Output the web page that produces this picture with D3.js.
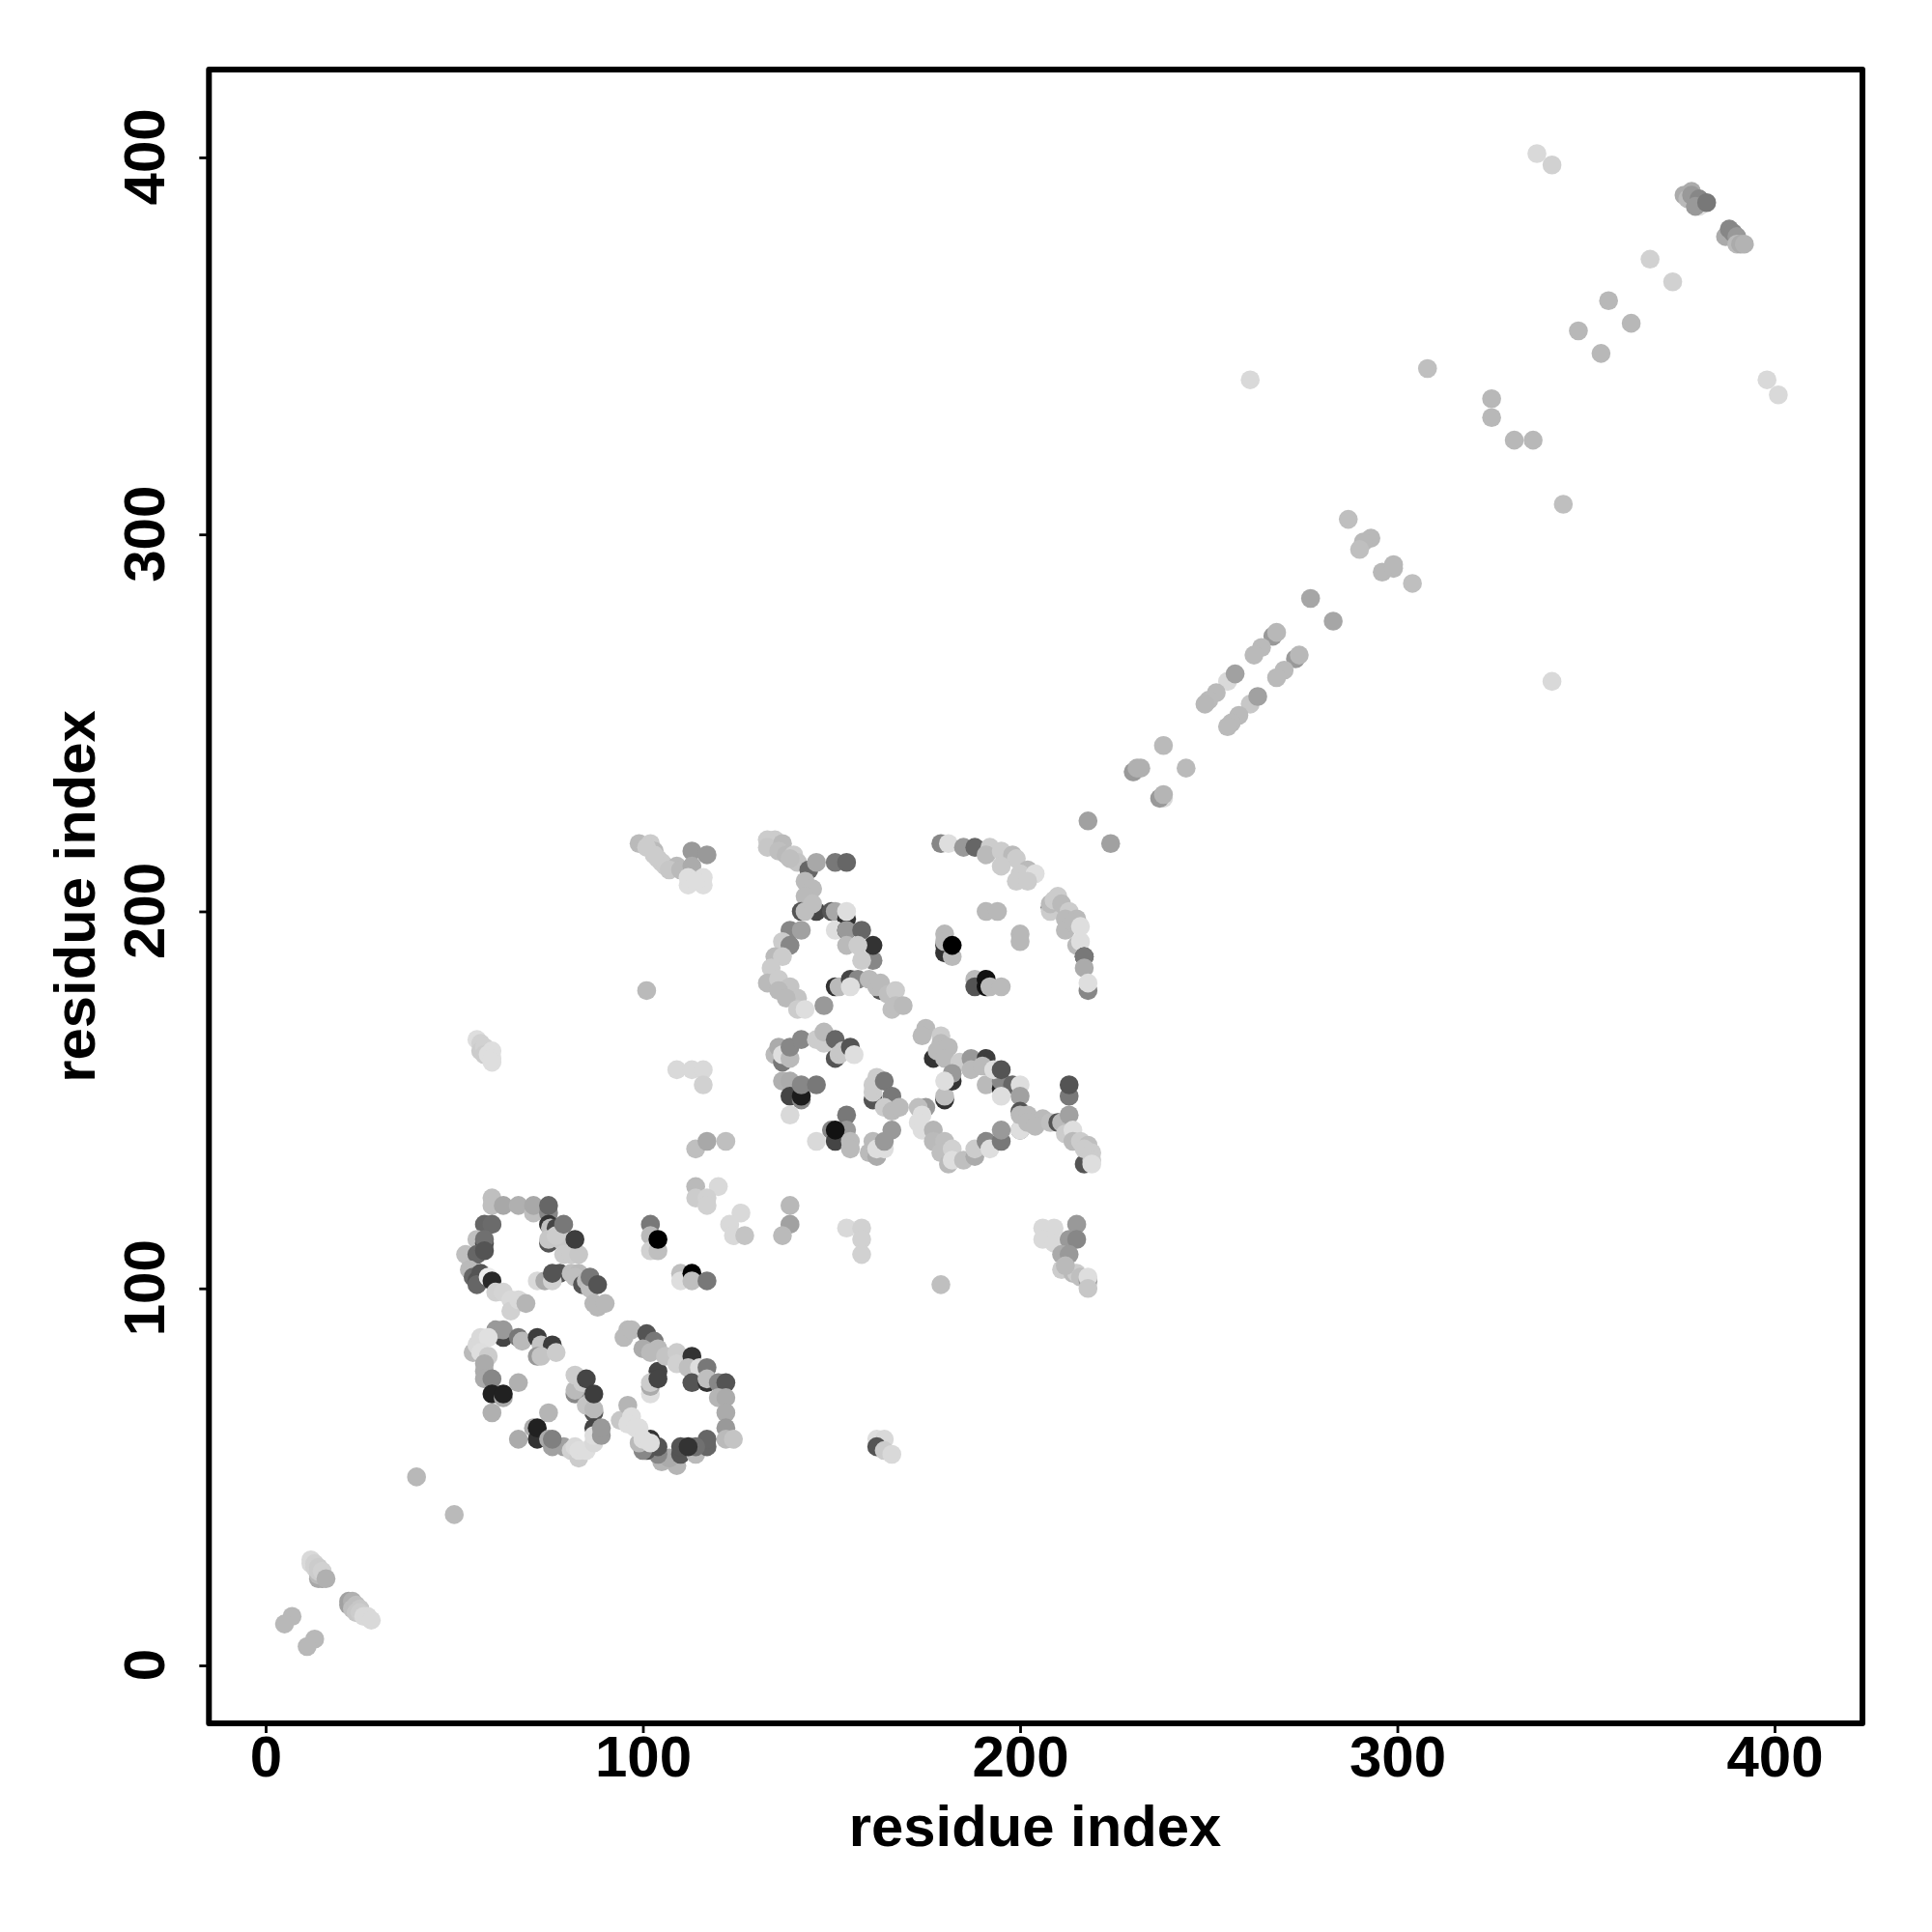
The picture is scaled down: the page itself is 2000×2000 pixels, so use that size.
<!DOCTYPE html>
<html><head><meta charset="utf-8">
<script src="https://cdn.jsdelivr.net/npm/d3@7/dist/d3.min.js"></script>
<style>html,body{margin:0;padding:0;background:#fff}svg{display:block}</style>
</head><body><svg id="c" width="2000" height="2000"></svg>
<script>
// each contact: [residue x, residue y, score 0-100 (100 = black)]
const cornerContacts=[[7,13,28],[5,11,28],[13,7,28],[11,5,28],[15,23,37],[14,23,34],[14,24,27],[12,28,15],[12,27,15],[13,27,18],[13,26,18],[14,26,20],[14,25,20],[15,25,18],[16,23,31],[22,16,37],[22,17,37],[23,17,31],[23,15,25],[24,16,25],[24,14,22],[25,15,22],[25,14,20],[26,13,15],[27,13,15],[28,12,15],[40,50,28],[50,40,27]];
const diagonalContacts=[[337,401,15],[341,398,18],[367,373,18],[373,367,18],[356,362,28],[348,354,28],[362,356,28],[354,348,28],[308,344,25],[261,341,15],[398,341,15],[401,337,15],[325,336,28],[325,331,28],[331,325,28],[336,325,28],[344,308,25],[287,304,25],[293,299,28],[291,298,28],[290,296,25],[296,290,28],[299,291,28],[299,292,28],[304,287,25],[277,283,35],[283,277,35],[267,273,40],[268,274,28],[264,270,27],[262,268,27],[255,261,15],[257,263,37],[252,258,27],[250,256,27],[249,255,28],[273,267,40],[274,268,28],[270,264,27],[268,262,27],[261,255,22],[263,257,37],[258,252,27],[256,250,27],[255,249,27],[238,244,27],[244,238,27],[230,237,15],[230,237,40],[231,238,31],[232,238,31],[238,230,15],[237,230,40],[238,231,29],[218,224,37],[224,218,37],[341,261,15]];
const upperCluster=[[378,391,33],[376,390,33],[377,389,27],[379,388,20],[380,387,13],[378,390,40],[380,389,47],[379,387,40],[382,388,53],[387,379,33],[388,381,47],[389,380,47],[390,379,40],[390,377,27],[391,377,33],[392,377,30]];
const loopLowerA=[[60,124,25],[60,122,25],[63,122,34],[67,122,31],[71,120,25],[71,122,34],[75,120,47],[75,122,60],[58,117,60],[60,117,58],[56,113,25],[58,112,73],[58,113,56],[53,109,25],[56,109,60],[58,110,67],[54,105,27],[55,103,60],[56,102,67],[57,104,67],[56,101,60],[59,103,7],[60,102,84],[61,99,18],[63,99,17],[65,97,15],[65,94,18],[67,97,15],[69,96,29],[72,102,15],[78,104,67],[74,102,33],[76,102,18],[76,104,67],[75,117,80],[75,112,67],[75.5,116,25],[77,116,73],[75,113,22],[78,113,22],[77,114,20],[79,117,53],[79,109,20],[81,109,20],[83,109,22],[82,113,76],[81,104,25],[83,104,27],[82,103,25],[84,101,67],[85,102,27],[86,100,25],[86,103,53],[88,101,67],[87,96,28],[88,95,28],[90,96,28]];
const loopLowerB=[[63,87,73],[61,89,40],[63,89,40],[67,87,53],[68,86,27],[72,87,76],[73,85,23],[72,82,40],[76,85,76],[73,82,23],[77,83,20],[55,83,27],[56,85,15],[57,87,15],[59,87,12],[57,83,13],[59,82,20],[58,80,33],[58,78,33],[58,76,33],[60,76,47],[67,75,31],[60,72,87],[63,71,33],[63,72,87],[60,67,31],[75,67,29],[67,60,33],[71,63,33],[72,60,80],[72,63,87],[75,60,33],[76,58,37],[79,58,37],[76,60,50],[82,72,47],[82,73,27],[82,77,20],[84,75,20],[85,76,73],[87,67,67],[85,69,23],[87,68,27],[87,72,76],[87,63,73],[81,57,18],[83,55,20],[82,58,15],[83,57,13],[85,57,13],[87,59,15],[87,61,13],[89,61,40],[89,63,40]];
const loopLowerC=[[104,78,73],[96,89,27],[95,87,27],[97,89,27],[101,88,67],[103,86,53],[100,84,33],[104,84,27],[102,83,27],[106,82,23],[109,83,20],[109,80,18],[113,82,80],[112,79,25],[115,79,13],[117,79,53],[102,72,13],[102,74,33],[102,75,20],[104,76,73],[113,75,67],[117,75,80],[117,76,25],[120,75,47],[122,75,67],[120,71,29],[122,71,33],[122,67,33],[122,63,40],[122,60,27],[124,60,23],[109,53,29],[105,54,29],[107,55,33],[110,56,67],[110,58,67],[104,56,47],[114,56,27],[117,58,60],[117,60,60],[114,58,56],[112,58,80],[104,58,67],[102,60,80],[101,57,67],[100,57,47],[99,59,27],[94,65,22],[96,69,29],[97,66,13],[96,64,13],[98,63,13],[99,63,13],[100,60,13],[102,59,13]];
const crossContacts=[[102,117,53],[102,114,27],[102,110,18],[104,110,25],[104,113,100],[110,104,25],[110,102,13],[113,104,100],[113,102,25],[117,102,53],[114,127,27],[120,127,15],[114,124,20],[117,124,18],[117,122,18],[126,120,15],[123,117,15],[124,114,15],[127,114,23],[139,122,28],[139,117,37],[137,114,27],[99,218,27],[102,218,20],[103,216,27],[101,217,20],[104,214,20],[103,215,20],[105,213,20],[106,212,20],[109,212,27],[107,211,22],[110,211,27],[113,216,40],[117,215,40],[113,212,33],[112,207,13],[116,207,13],[116,209,13],[112,209,13],[114,208,13],[101,179,27],[56,166,13],[57,165,18],[57,163,20],[58,164,18],[58,162,20],[60,163,13],[59,162,13],[60,161,13],[60,160,13],[109,158,15],[113,158,15],[116,158,15],[116,154,18],[114,137,25],[117,139,34],[122,139,25],[154,116,15],[158,116,18],[158,113,18],[158,109,18],[206,116,15],[209,116,15],[206,113,15],[209,112,15],[215,117,40],[213,113,40],[215,113,47],[211,109,33],[213,109,40],[211,105,20],[214,104,27],[215,104,20],[216,103,25],[212,106,27],[218,102,40],[218,103,13],[218,100,22],[179,101,25],[162,60,13],[164,60,15],[162,58,67],[164,57,20],[166,56,15]];
const loopUpperA=[[133,219,20],[135,219,20],[133,217,22],[137,218,27],[136,216,25],[138,215,27],[140,215,20],[141,213,23],[139,214,25],[144,211,60],[146,213,34],[151,213,53],[154,213,60],[143,208,27],[145,206,27],[143,204,27],[142,200,67],[146,200,73],[143,200,25],[145,202,25],[150,200,67],[151,200,34],[154,198,80],[154,200,13],[151,195,13],[154,195,80],[154,195,40],[158,195,60],[161,187,47],[161,191,80],[154,191,27],[157,191,20],[158,187,20],[139,195,47],[142,195,37],[137,192,20],[139,191,47],[135,188,27],[137,188,20],[134,185,20],[133,181,27],[136,182,20],[139,180,23],[136,179,27],[141,177,23],[138,177,27],[141,174,20],[143,174,13],[148,175,40],[151,180,80],[152,180,27],[155,182,73],[157,182,47],[155,180,13],[163,179,67],[160,182,27],[162,180,27],[163,181,27],[165,178,25],[167,179,20],[166,174,25],[167,175,25],[169,175,27]];
const loopUpperB=[[135,162,27],[136,164,33],[137,160,53],[137,162,13],[139,161,27],[139,164,47],[142,166,47],[146,166,20],[148,165,20],[148,168,27],[151,161,67],[151,166,60],[152,162,22],[153,163,22],[155,164,67],[156,162,13],[137,155,31],[139,155,33],[139,151,73],[142,150,47],[142,151,89],[142,154,47],[146,154,53],[139,146,15],[154,146,53],[150,142,47],[154,142,40],[151,139,73],[151,142,93],[155,139,27],[155,137,27],[146,139,15],[162,156,20],[161,150,67],[161,152,20],[161,154,20],[164,155,53],[166,151,53],[164,148,20],[166,147,27],[168,148,27],[166,142,40],[161,139,27],[160,136,27],[162,135,33],[162,137,13],[164,137,13],[164,139,40]];
const loopUpperC=[[177,161,80],[175,169,27],[174,167,27],[179,167,20],[179,165,27],[178,163,27],[181,164,27],[180,161,27],[184,160,20],[187,161,40],[191,161,76],[187,158,27],[190,159,27],[191,154,27],[180,150,80],[180,151,25],[182,155,80],[182,157,40],[180,155,13],[195,153,87],[195,155,47],[193,158,13],[195,158,67],[198,154,60],[195,151,13],[200,154,13],[200,151,37],[200,147,67],[200,142,47],[200,142,13],[200,146,27],[202,146,27],[202,144,27],[206,145,27],[204,143,27],[208,144,25],[210,144,67],[211,144,27],[213,146,37],[213,151,53],[213,154,67],[212,141,20],[214,142,13],[214,139,27],[216,139,20],[217,133,67],[218,138,25],[217,137,20],[219,136,20],[219,134,20],[219,133,13],[175,148,40],[173,148,25],[174,146,13],[173,144,13],[174,142,13],[177,142,29],[177,139,27],[180,139,25],[179,136,25],[182,137,18],[181,133,27],[182,134,13],[185,134,25],[188,135,33],[188,137,20],[191,139,47],[192,137,13],[195,139,53],[195,142,40]];
const loopUpperD=[[179,218,47],[181,218,13],[185,217,40],[188,217,60],[192,217,20],[191,215,27],[195,216,20],[198,215,27],[199,214,20],[195,212,20],[201,209,67],[202,211,27],[200,210,20],[204,210,13],[199,208,20],[202,208,20],[191,200,28],[194,200,28],[200,194,28],[200,192,28],[180,191,80],[180,189,80],[180,194,28],[180,192,28],[182,188,27],[182,191,100],[188,182,27],[188,180,67],[191,182,93],[191,180,93],[192,180,27],[195,180,27],[208,201,80],[208,200,20],[208,202,27],[209,203,20],[210,204,20],[211,202,27],[213,200,20],[212,198,27],[215,198,27],[212,195,27],[214,197,27],[216,196,13],[215,191,27],[216,192,13],[217,188,73],[217,188,53],[217,185,33],[218,179,47],[218,181,13]];
const xTickLabels=[0,100,200,300,400];
const yTickLabels=[0,100,200,300,400];
const axisTitle="residue index";
const xDomain=[-15.03,423.3];
const yDomain=[-15.37,423.3];

const W=[216.3,1928],H=[1784,72];
const x=d3.scaleLinear().domain(xDomain).range(W);
const y=d3.scaleLinear().domain(yDomain).range(H);
const shade=d3.scaleLinear().domain([0,100]).range(["#ffffff","#000000"]);
const svg=d3.select("#c");
const font="'Liberation Sans',Arial,sans-serif";
const all=[].concat(cornerContacts,diagonalContacts,upperCluster,loopLowerA,loopLowerB,loopLowerC,crossContacts,loopUpperA,loopUpperB,loopUpperC,loopUpperD);
svg.append("g").selectAll("circle").data(all).join("circle")
  .attr("cx",d=>x(d[0])).attr("cy",d=>y(d[1])).attr("r",9.8).attr("fill",d=>shade(d[2]));
svg.append("rect").attr("x",W[0]).attr("y",H[1]).attr("width",W[1]-W[0]).attr("height",H[0]-H[1])
  .attr("fill","none").attr("stroke","#000").attr("stroke-width",6).attr("stroke-linejoin","round");
const gx=svg.append("g").attr("transform",`translate(0,${H[0]})`).call(d3.axisBottom(x).tickValues(xTickLabels).tickSize(10).tickSizeOuter(0).tickFormat(d3.format("d")));
const gy=svg.append("g").attr("transform",`translate(${W[0]},0)`).call(d3.axisLeft(y).tickValues(yTickLabels).tickSize(10).tickSizeOuter(0).tickFormat(d3.format("d")));
[gx,gy].forEach(g=>{g.select(".domain").remove();g.selectAll("line").attr("stroke","#000").attr("stroke-width",2.8);
  g.selectAll("text").attr("fill","#000").style("font-family",font).style("font-weight","bold").style("font-size","60px");});
gx.selectAll("text").attr("y",55).attr("dy",0).attr("text-anchor","middle");
gy.selectAll("text").attr("x",0).attr("dy",0).attr("y",0).attr("text-anchor","middle")
  .attr("transform","translate(-46.3,-1) rotate(-90)");
svg.append("text").text(axisTitle).attr("x",1071.5).attr("y",1911).attr("text-anchor","middle")
  .style("font-family",font).style("font-weight","bold").style("font-size","59.8px");
svg.append("text").text(axisTitle).attr("transform","translate(98,928) rotate(-90)").attr("text-anchor","middle")
  .style("font-family",font).style("font-weight","bold").style("font-size","59.8px");
</script></body></html>
